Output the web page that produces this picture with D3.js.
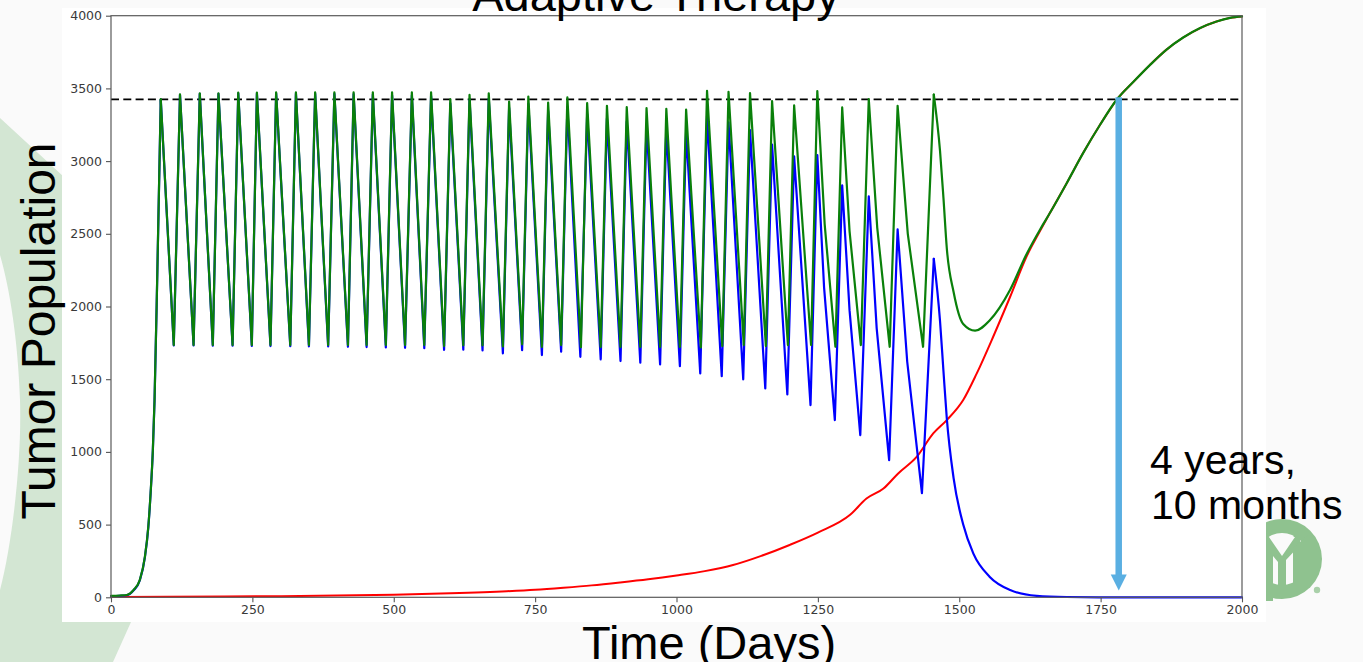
<!DOCTYPE html>
<html>
<head>
<meta charset="utf-8">
<script src="https://cdn.jsdelivr.net/npm/d3@7"></script>
<style>
  html, body { margin: 0; padding: 0; background: #fafafa; overflow: hidden; }
  svg { display: block; }
</style>
</head>
<body>
<svg id="slide" width="1363" height="662"></svg>
<script>
// ---- Simulation readout: tumour populations under adaptive therapy ----

// Cycle peaks (treatment switched on) of the total population
const peakDays = [88,122,157,190,225,258,292,327,361,395,429,463,497,532,566,600,634,668,
  704,738,773,807,842,877,912,947,982,1017,1054,1092,1130,1169,1208,1249,1293,1340,1391,1455];
const totalPeaks = [3425,3459,3466,3466,3471,3471,3473,3473,3473,3473,3473,3473,3473,3473,3473,3425,3455,3466,
  3410,3444,3403,3438,3399,3380,3371,3364,3360,3355,3484,3477,3468,3413,3383,3482,3369,3427,3380,3458];
const sensitivePeaks = [3422,3456,3462,3462,3466,3465,3466,3465,3464,3462,3460,3458,3455,3452,3449,3397,3423,3429,
  3367,3394,3346,3372,3323,3292,3271,3249,3230,3205,3309,3267,3213,3113,3033,3042,2834,2757,2530,2328];

// Cycle troughs (treatment switched off)
const troughDays = [111,146,180,215,249,282,317,350,384,419,452,486,520,554,589,623,657,
  693,727,762,796,831,866,901,936,971,1006,1043,1081,1119,1158,1197,1238,1281,1326,1377,1436];
const totalTroughs = [1735,1735,1735,1735,1735,1735,1735,1735,1735,1735,1735,1735,1735,1735,1728,1733,1733,
  1725,1740,1722,1735,1720,1722,1722,1722,1722,1722,1719,1728,1735,1728,1735,1735,1723,1735,1723,1723];
const sensitiveTroughDays = [111,146,180,215,249,282,317,350,384,419,452,486,520,554,589,623,657,
  693,727,762,796,830,866,901,936,971,1006,1042,1080,1118,1157,1196,1237,1280,1325,1376,1434];
const sensitiveTroughs = [1732,1732,1731,1730,1729,1728,1727,1726,1725,1723,1721,1719,1716,1713,1702,1703,1698,
  1678,1700,1666,1689,1654,1636,1625,1613,1602,1590,1540,1521,1499,1437,1395,1322,1219,1115,943,716];

// Extra points on the longer decays of the last cycles
const totalDecayDays = [1262,1306,1355,1409];
const totalDecay = [2567,2519,2541,2500];
const sensitiveDecayDays = [1261,1306,1354,1408];
const sensitiveDecay = [2130,1975,1850,1620];

// Initial untreated growth
const riseDays = [0,15,28,40,51,60,66,70,74,77,82,88];
const totalRise = [10,12,16,50,120,280,486,715,1013,1357,2250,3425];
const sensitiveRise = [8,10,14,48,117,277,483,712,1010,1354,2247,3422];

// After the last treatment cycle
const totalTailDays = [1455,1466,1472,1478,1490,1507,1528,1554,1590,1619,1643,
  1660,1690,1719,1749,1778,1808,1837,1866,1896,1926,1955,1979,2000];
const totalTail = [3458,3070,2750,2400,2100,1880,1834,1905,2115,2360,2530,
  2641,2848,3055,3250,3420,3545,3660,3765,3850,3915,3960,3985,3995];
const sensitiveTailDays = [1455,1466,1472,1478,1490,1507,1525,1554,1590,1637,1690,1750,2000];
const sensitiveTail = [2328,1900,1560,1230,820,500,300,140,50,10,2,0,0];

// Resistant population
const resistantDays = [0,100,200,300,400,500,600,700,750,800,850,900,950,1000,1050,1100,1150,1200,1250,
  1307,1336,1366,1392,1425,1454,1478,1507,1531,1560,1590,1619,1643,
  1660,1690,1719,1749,1778,1808,1837,1866,1896,1926,1955,1979,2000];
const resistant = [2,3,5,8,12,18,28,42,52,66,82,102,124,150,180,222,285,360,445,
  567,679,748,852,967,1127,1219,1357,1540,1792,2067,2343,2520,
  2641,2848,3055,3250,3420,3545,3660,3765,3850,3915,3960,3985,3995];

const threshold = 3425;            // upper population bound that switches treatment on
const arrowDay = 1782;             // time the total crosses the bound for good
const arrowEnd = 46;

const xTicks = [0,250,500,750,1000,1250,1500,1750,2000];
const yTicks = [0,500,1000,1500,2000,2500,3000,3500,4000];

// ---- helpers ----
const zip = (ds, vs) => ds.map((d, i) => ({ t: d, v: vs[i] }));
function cycles(pDays, pVals, tDays, tVals, eDays, eVals) {
  const pts = zip(pDays, pVals).concat(zip(tDays, tVals), zip(eDays, eVals));
  return pts.sort((a, b) => a.t - b.t);
}

// ---- slide ----
const svg = d3.select("#slide");
const W = 1363, H = 662;

svg.append("rect").attr("width", W).attr("height", H).attr("fill", "#fafafa");

// light green swoosh on the left
svg.append("path")
  .attr("d", "M0,118 L230,330 L150,600 L131,622 L113,662 L0,662 L0,590 C12,545 22,460 20,400 C18,340 10,290 0,255 Z")
  .attr("fill", "#d3e6d3");

// logo on the right
const logo = svg.append("g").attr("fill", "#8fc28f");
const lc = [1282, 559];
logo.append("circle").attr("cx", lc[0]).attr("cy", lc[1]).attr("r", 40);
logo.append("circle").attr("cx", lc[0]).attr("cy", lc[1]).attr("r", 26).attr("fill", "#fafafa");
logo.append("path").attr("d", "M1262,528 L1282,552 L1300,528 L1300,545 L1286,560 L1286,590 L1278,590 L1278,562 L1273,556 L1273,601 L1262,601 Z");
logo.append("path").attr("d", "M1293,548 L1308,535 L1308,585 L1293,585 Z");
logo.append("path").attr("d", "M1269,537 L1295,537 L1282,556 Z").attr("fill", "#fafafa");
logo.append("circle").attr("cx", 1317).attr("cy", 590).attr("r", 3.2).attr("fill", "#a9d0a9");

// chart image panel
svg.append("rect").attr("x", 62).attr("y", 8).attr("width", 1204).attr("height", 614).attr("fill", "#ffffff");

// ---- chart ----
const x = d3.scaleLinear().domain([0, 2000]).range([111, 1242]);
const y = d3.scaleLinear().domain([0, 4000]).range([597.3, 15.7]);

const chart = svg.append("g");

const lineLin = d3.line().x(d => x(d.t)).y(d => y(d.v)).curve(d3.curveLinear);
const lineSmooth = d3.line().x(d => x(d.t)).y(d => y(d.v)).curve(d3.curveMonotoneX);

// threshold
chart.append("line")
  .attr("x1", x(0)).attr("x2", x(2000))
  .attr("y1", y(threshold)).attr("y2", y(threshold))
  .attr("stroke", "#000").attr("stroke-width", 1.8).attr("stroke-dasharray", "8,4.3");

function drawSeries(color, width, rise, cyc, tail) {
  const g = chart.append("g").attr("fill", "none").attr("stroke", color)
    .attr("stroke-width", width).attr("stroke-linejoin", "round").attr("stroke-linecap", "round");
  if (rise) g.append("path").attr("d", lineSmooth(rise));
  if (cyc) g.append("path").attr("d", lineLin(cyc));
  if (tail) g.append("path").attr("d", lineSmooth(tail));
}

// resistant
drawSeries("#ff0000", 2, null, null, zip(resistantDays, resistant));
// sensitive
drawSeries("#0000ff", 2.2,
  zip(riseDays, sensitiveRise),
  cycles(peakDays, sensitivePeaks, sensitiveTroughDays, sensitiveTroughs, sensitiveDecayDays, sensitiveDecay),
  zip(sensitiveTailDays, sensitiveTail));
// total
drawSeries("#0a800a", 2.2,
  zip(riseDays, totalRise),
  cycles(peakDays, totalPeaks, troughDays, totalTroughs, totalDecayDays, totalDecay),
  zip(totalTailDays, totalTail));

// axes
const axisFont = "'DejaVu Sans', sans-serif";
const xAxis = chart.append("g").attr("transform", `translate(0,${y(0)})`)
  .call(d3.axisBottom(x).tickValues(xTicks).tickSize(5).tickPadding(3).tickFormat(d3.format("d")));
const yAxis = chart.append("g").attr("transform", `translate(${x(0)},0)`)
  .call(d3.axisLeft(y).tickValues(yTicks).tickSize(5).tickPadding(4).tickFormat(d3.format("d")));
[xAxis, yAxis].forEach(a => {
  a.select(".domain").remove();
  a.selectAll(".tick line").attr("stroke", "#555").attr("stroke-width", 1.1);
  a.selectAll(".tick text").attr("fill", "#3a3a3a").style("font-family", axisFont).style("font-size", "12.5px");
});

// frame
chart.append("rect")
  .attr("x", x(0)).attr("y", y(4000))
  .attr("width", x(2000) - x(0)).attr("height", y(0) - y(4000))
  .attr("fill", "none").attr("stroke", "#5a5a5a").attr("stroke-width", 1.2);

// ---- slide text and annotation ----
const slideFont = "'Liberation Sans', Arial, sans-serif";

svg.append("text").text("Adaptive Therapy")
  .attr("x", 656).attr("y", 11).attr("text-anchor", "middle")
  .style("font-family", slideFont).style("font-size", "47px").attr("fill", "#000");

svg.append("text").text("Tumor Population")
  .attr("transform", "translate(55,331) rotate(-90)").attr("text-anchor", "middle")
  .style("font-family", slideFont).style("font-size", "48px").attr("fill", "#000");

svg.append("text").text("Time (Days)")
  .attr("x", 709).attr("y", 659).attr("text-anchor", "middle")
  .style("font-family", slideFont).style("font-size", "47px").attr("fill", "#000");

// arrow marking the time to progression
const ax = x(arrowDay);
svg.append("line")
  .attr("x1", ax).attr("x2", ax)
  .attr("y1", y(threshold) - 2).attr("y2", y(arrowEnd) - 14)
  .attr("stroke", "#5aafe2").attr("stroke-width", 6.5);
svg.append("path")
  .attr("d", `M${ax - 8},${y(arrowEnd) - 16} L${ax + 8},${y(arrowEnd) - 16} L${ax},${y(arrowEnd)} Z`)
  .attr("fill", "#5aafe2");

svg.append("text").text("4 years,")
  .attr("x", 1150).attr("y", 474)
  .style("font-family", slideFont).style("font-size", "41px").attr("fill", "#000");
svg.append("text").text("10 months")
  .attr("x", 1151).attr("y", 519)
  .style("font-family", slideFont).style("font-size", "41px").attr("fill", "#000");
</script>
</body>
</html>
